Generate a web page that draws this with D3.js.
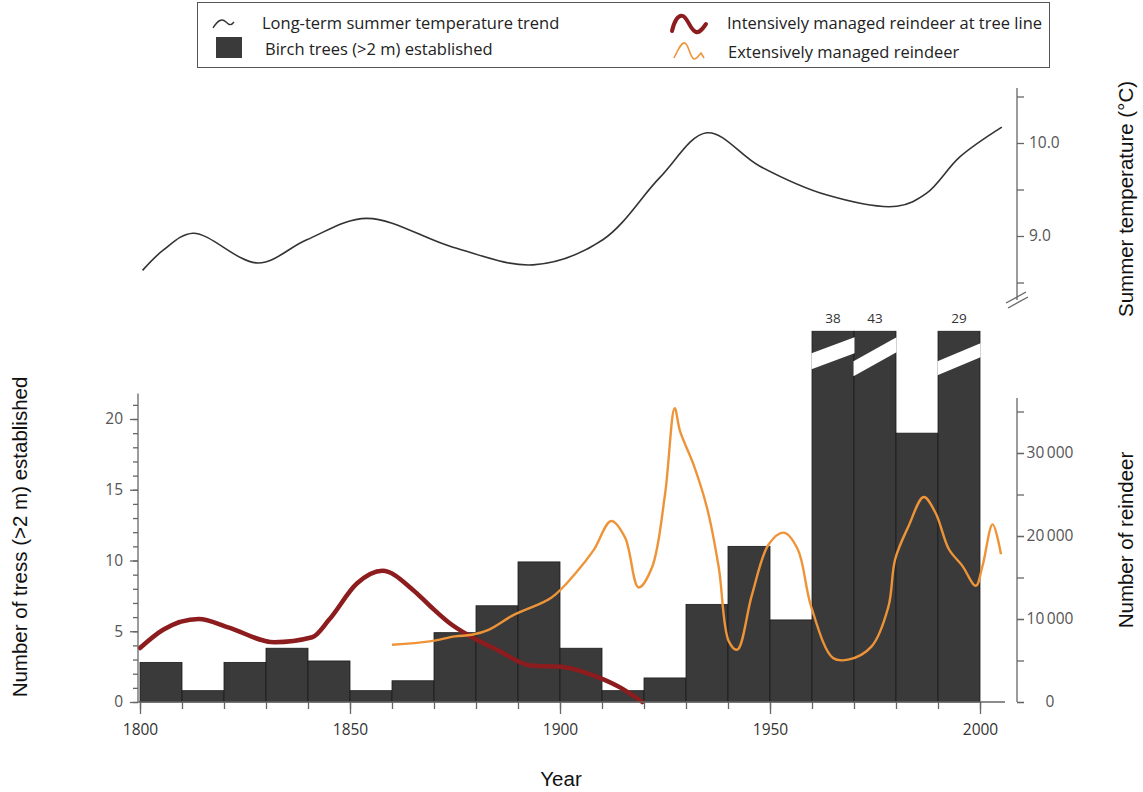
<!DOCTYPE html>
<html>
<head>
<meta charset="utf-8">
<script src="https://cdn.jsdelivr.net/npm/d3@7"></script>
<style>
  body { margin: 0; background: #fff; }
  text { font-family: "Open Sans", sans-serif; }
  .title { font-family: "Liberation Sans", Arial, sans-serif; font-size: 20.5px; fill: #111; }
  .tick text { font-size: 15.5px; fill: #555; }
  .legend text { font-size: 16.5px; fill: #222; }
</style>
</head>
<body>
<svg id="chart" width="1143" height="792"></svg>
<script>
// Birch trees (>2 m) established per decade (start year of each bin)
var decades = [1800, 1810, 1820, 1830, 1840, 1850, 1860, 1870, 1880, 1890,
               1900, 1910, 1920, 1930, 1940, 1950, 1960, 1970, 1980, 1990];
var birchTrees = [2.8, 0.8, 2.8, 3.8, 2.9, 0.8, 1.5, 4.9, 6.8, 9.9,
                  3.8, 0.8, 1.7, 6.9, 11, 5.8, 38, 43, 19, 29];
var brokenCap = 26.2; // bars taller than this are drawn broken

// Long-term summer temperature trend (°C)
var tempYears = [1800.6, 1805.6, 1812.6, 1828.1, 1839.7, 1854, 1874.5,
                 1893.6, 1910.2, 1923.8, 1935, 1947.6, 1963.6,
                 1980.2, 1987.3, 1995.2, 2005.2];
var tempValues = [8.63, 8.85, 9.03, 8.71, 8.96, 9.19, 8.88,
                  8.69, 8.96, 9.63, 10.11, 9.75, 9.44,
                  9.32, 9.46, 9.85, 10.17];

// Intensively managed reindeer at tree line
var intensiveYears = [1800, 1805.5, 1814, 1821, 1832, 1841, 1845, 1851.7, 1857.7, 1865,
                      1869, 1874, 1878, 1885, 1893, 1901, 1909, 1914.5, 1919.6];
var intensiveReindeer = [6500, 8700, 10000, 9000, 7200, 7800, 9900, 14300, 15800, 13500,
                         11600, 9400, 8100, 6300, 4400, 4200, 3000, 1700, 0];

// Extensively managed reindeer
var extensiveYears = [1860, 1869, 1875, 1879, 1883, 1889, 1898, 1904, 1908, 1912.2,
                      1915.5, 1918.7, 1921.9, 1925, 1927.3, 1928.6, 1931.8, 1935, 1937.8, 1940.2,
                      1942.2, 1945.7, 1949.7, 1953.3, 1956.6, 1959.8, 1965, 1968.6, 1974.2, 1978.2,
                      1979.8, 1983, 1986.6, 1989.4, 1992.6, 1995.8, 1999, 2000.6, 2003, 2005];
var extensiveReindeer = [6900, 7300, 7900, 8100, 8700, 10500, 12600, 15700, 18300, 21800,
                         19800, 13800, 16200, 25000, 35400, 32600, 28600, 23400, 16200, 7300,
                         6300, 12900, 19000, 20400, 18400, 11500, 5300, 5100, 6700, 11500,
                         17200, 21200, 24700, 22800, 18400, 16400, 14000, 16400, 21400, 17800];

var yearTicks = [1800, 1850, 1900, 1950, 2000];
var treeTicks = [0, 5, 10, 15, 20];
var reindeerTicks = [0, 10000, 20000, 30000];
var tempTicks = [9.0, 10.0];

var svg = d3.select("#chart");

// scales
var x = d3.scaleLinear().domain([1800, 2000]).range([140, 980]);
var yTrees = d3.scaleLinear().domain([0, 20]).range([702, 419]);
var yReindeer = d3.scaleLinear().domain([0, 30000]).range([702, 453]);
var yTemp = d3.scaleLinear().domain([9, 10]).range([236, 143]);

var axisColor = "#666";

// ---- bars
var barsGroup = svg.append("g");
barsGroup.selectAll("rect")
  .data(decades)
  .enter()
  .append("rect")
  .attr("x", d => x(d))
  .attr("width", d => x(d + 10) - x(d))
  .attr("y", (d, i) => yTrees(Math.min(birchTrees[i], brokenCap)))
  .attr("height", (d, i) => yTrees(0) - yTrees(Math.min(birchTrees[i], brokenCap)))
  .attr("fill", "#3a3a3a")
  .attr("stroke", "#1c1c1c")
  .attr("stroke-width", 0.8);

// white diagonal gaps on the broken bars: [left offset, right offset, thickness]
var breakShapes = { 1960: [22, 6, 16], 1970: [30, 6, 15], 1990: [30, 12, 14] };
decades.forEach(function(d, i) {
  if (birchTrees[i] <= brokenCap) return;
  var s = breakShapes[d];
  var top = yTrees(brokenCap);
  var x0 = x(d) - 0.5, x1 = x(d + 10) + 0.5;
  barsGroup.append("path")
    .attr("d", `M${x0},${top + s[0]}L${x1},${top + s[1]}L${x1},${top + s[1] + s[2]}L${x0},${top + s[0] + s[2]}Z`)
    .attr("fill", "#fff");
  barsGroup.append("text")
    .attr("x", (x(d) + x(d + 10)) / 2)
    .attr("y", top - 8)
    .attr("text-anchor", "middle")
    .style("font-size", "13.5px")
    .style("fill", "#333")
    .text(birchTrees[i]);
});

// ---- lines
var tempLine = d3.line()
  .x((d, i) => x(tempYears[i]))
  .y(d => yTemp(d))
  .curve(d3.curveCatmullRom.alpha(0.5));
svg.append("path")
  .attr("d", tempLine(tempValues))
  .attr("fill", "none")
  .attr("stroke", "#333")
  .attr("stroke-width", 1.6);

var intensiveLine = d3.line()
  .x((d, i) => x(intensiveYears[i]))
  .y(d => yReindeer(d))
  .curve(d3.curveMonotoneX);
svg.append("path")
  .attr("d", intensiveLine(intensiveReindeer))
  .attr("fill", "none")
  .attr("stroke", "#8c1c1e")
  .attr("stroke-width", 4.5)
  .attr("stroke-linecap", "round");

var extensiveLine = d3.line()
  .x((d, i) => x(extensiveYears[i]))
  .y(d => yReindeer(d))
  .curve(d3.curveCatmullRom.alpha(0.5));
svg.append("path")
  .attr("d", extensiveLine(extensiveReindeer))
  .attr("fill", "none")
  .attr("stroke", "#ee9438")
  .attr("stroke-width", 2.4);

// ---- axes
function styleAxis(g) {
  g.select(".domain").remove();
  g.selectAll(".tick line").attr("stroke", axisColor).attr("stroke-width", 1.3);
}

// x axis
var xAxisG = svg.append("g").attr("transform", `translate(0,${yTrees(0)})`);
xAxisG.append("g")
  .call(d3.axisBottom(x).tickValues(d3.range(1800, 2001, 10)).tickSize(7).tickFormat(""))
  .call(styleAxis);
xAxisG.append("g")
  .call(d3.axisBottom(x).tickValues(yearTicks).tickSize(12).tickPadding(10).tickFormat(d3.format("d")))
  .call(styleAxis);
xAxisG.selectAll(".tick text").style("fill", "#333");
xAxisG.append("line")
  .attr("x1", 138).attr("x2", 1005)
  .attr("stroke", axisColor).attr("stroke-width", 1.3);

// left axis (trees)
var leftG = svg.append("g").attr("transform", "translate(138,0)");
leftG.append("g")
  .call(d3.axisLeft(yTrees).tickValues(d3.range(0, 22)).tickSize(5).tickFormat(""))
  .call(styleAxis);
leftG.append("g")
  .call(d3.axisLeft(yTrees).tickValues(treeTicks).tickSize(8).tickPadding(7))
  .call(styleAxis);
leftG.append("line")
  .attr("y1", yTrees(21.8)).attr("y2", yTrees(0))
  .attr("stroke", axisColor).attr("stroke-width", 1.3);

// right axis (reindeer)
var spaceFormat = d3.formatLocale({ decimal: ".", thousands: "\u2009", grouping: [3] }).format(",");
var rightG = svg.append("g").attr("transform", "translate(1017,0)");
rightG.append("g")
  .call(d3.axisRight(yReindeer).tickValues(d3.range(0, 35001, 5000)).tickSize(7).tickFormat(""))
  .call(styleAxis);
rightG.append("g")
  .call(d3.axisRight(yReindeer).tickValues(reindeerTicks).tickSize(7).tickFormat(spaceFormat))
  .call(styleAxis);
rightG.selectAll(".tick text").attr("x", 33).attr("text-anchor", "middle");
rightG.append("line")
  .attr("y1", 398).attr("y2", yReindeer(0))
  .attr("stroke", axisColor).attr("stroke-width", 1.3);

// top-right axis (temperature)
var tempG = svg.append("g").attr("transform", "translate(1017,0)");
tempG.append("g")
  .call(d3.axisRight(yTemp).tickValues([8.5, 9.5, 10.5]).tickSize(7).tickFormat(""))
  .call(styleAxis);
tempG.append("g")
  .call(d3.axisRight(yTemp).tickValues(tempTicks).tickSize(7).tickPadding(5).tickFormat(d3.format(".1f")))
  .call(styleAxis);
tempG.append("line")
  .attr("y1", 88).attr("y2", 300)
  .attr("stroke", axisColor).attr("stroke-width", 1.3);
// axis break mark
[[-11, 303, 9, 292], [-9, 308, 11, 297]].forEach(function(b) {
  tempG.append("line")
    .attr("x1", b[0]).attr("y1", b[1]).attr("x2", b[2]).attr("y2", b[3])
    .attr("stroke", axisColor).attr("stroke-width", 1.3);
});

// ---- axis titles
svg.append("text").attr("class", "title")
  .attr("transform", "translate(1133,199) rotate(-90)")
  .attr("text-anchor", "middle")
  .text("Summer temperature (°C)");
svg.append("text").attr("class", "title")
  .attr("transform", "translate(1133,540) rotate(-90)")
  .attr("text-anchor", "middle")
  .text("Number of reindeer");
svg.append("text").attr("class", "title")
  .attr("transform", "translate(27,537) rotate(-90)")
  .attr("text-anchor", "middle")
  .text("Number of tress (>2 m) established");
svg.append("text").attr("class", "title")
  .attr("x", 561).attr("y", 786)
  .attr("text-anchor", "middle")
  .text("Year");

// ---- legend
var legend = svg.append("g").attr("class", "legend");
legend.append("rect")
  .attr("x", 197.5).attr("y", 2.5).attr("width", 852).attr("height", 65)
  .attr("fill", "#fff").attr("stroke", "#555").attr("stroke-width", 1);

legend.append("path")
  .attr("d", "M213,28 C218,20 222,18 226,22 C229,25 231,26 234,22")
  .attr("fill", "none").attr("stroke", "#333").attr("stroke-width", 1.4);
legend.append("rect")
  .attr("x", 216).attr("y", 37).attr("width", 26).attr("height", 21)
  .attr("fill", "#3a3a3a");
legend.append("path")
  .attr("d", "M672,31 C674,22 678,14 683,16 C688,18 690,30 696,32 C700,33 703,28 706,24")
  .attr("fill", "none").attr("stroke", "#8c1c1e").attr("stroke-width", 4).attr("stroke-linecap", "round");
legend.append("path")
  .attr("d", "M674,58 C678,50 681,42 685,43 C689,45 690,58 694,59 C697,59 699,55 701,53 L704,58")
  .attr("fill", "none").attr("stroke", "#ee9438").attr("stroke-width", 1.6);

var legendItems = [
  ["Long-term summer temperature trend", 262, 23],
  ["Birch trees (>2 m) established", 265, 49],
  ["Intensively managed reindeer at tree line", 727, 23],
  ["Extensively managed reindeer", 728, 52]
];
legend.selectAll("text.item")
  .data(legendItems)
  .enter()
  .append("text")
  .attr("class", "item")
  .attr("x", d => d[1])
  .attr("y", d => d[2])
  .attr("dy", "0.35em")
  .text(d => d[0]);
</script>
</body>
</html>
